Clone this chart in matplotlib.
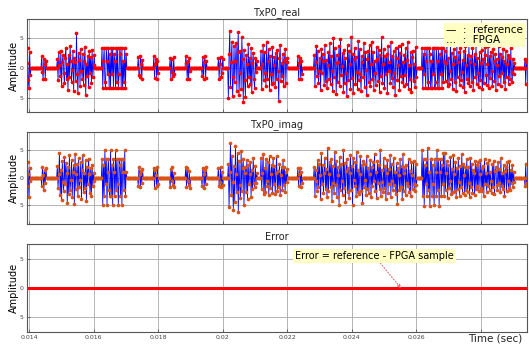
import matplotlib.pyplot as plt
import numpy as np

# sample period and time span of the capture
dt = 2.2e-5
t_first = 0.01390
t_last = 0.02945

# start time of each burst (sec)
burst_t0 = [0.013929, 0.014394, 0.014859, 0.016254, 0.017371, 0.017867, 0.018363,
            0.018859, 0.019355, 0.019851, 0.020161, 0.021185, 0.022332, 0.022828,
            0.026177, 0.029370]

# TxP0 real part, samples of each burst
real_bursts = [
    [0.8, 3.3, -2.1, -3.4, 2.6, -1.2],
    [1.9, -0.7, -1.8, 1.4, 0.6, -1.9, 1.1],
    [1.4, -2.1, 2.6, 0.5, -1.3, 2.9, -3.1, 1.0, 2.2, -0.8, -2.6, 1.7, 3.4, -1.9, 0.6, -3.8,
     2.1, -1.5, 3.7, 1.2, -2.4, -0.4, 2.8, -3.9, 1.6, 0.9, -2.2, 5.8, -1.1, -4.3, 2.5, 1.3,
     -3.0, 3.1, -0.6, -1.8, 2.4, -2.9, 1.1, 3.5, -4.6, 0.7, -1.4, 2.0, -3.2, 2.9, -0.9, 1.8,
     -2.5, 3.0, -1.6, 0.4, 2.2],
    [3.4, -3.4, 1.1, 3.4, -2.3, -3.4, 3.4, 1.1, -1.1, 3.4, -3.4, 2.3, -3.4, 3.4, -1.1, 3.4,
     -3.4, 2.3, 1.1, -3.4, 3.4, -2.3, 3.4, -3.4, -1.1, 3.4, 2.3, -3.4, 3.4, -3.4, 1.1, -2.3,
     3.4, -3.4, 2.3],
    [1.8, -1.2, -1.6, 1.9, 0.7, -1.9, 1.3],
    [1.9, -1.7, 0.6, 1.4, -1.9, 1.1, -0.8],
    [1.6, -1.9, 1.5, -0.7, -1.4, 1.8, -1.1],
    [1.9, 0.8, -1.8, 1.2, -1.9, 1.7, -0.6],
    [-1.3, 1.8, -1.9, 0.9, 1.9, -1.7, 1.2],
    [1.6, -1.9, 0.7, 1.8, -1.5, -0.9, 1.4],
    [-5.0, 2.3, 6.1, -3.3, 0.9, 4.4, -4.8, -1.6, 3.6, -2.4, 1.2, 4.2, -3.9, 2.7, 6.0, -4.5,
     -0.8, 2.8, -3.6, 5.1, 1.4, -5.8, 3.0, -2.1, -4.9, 2.2, 0.6, -3.1, 4.0, -1.5, 1.6, -2.7,
     3.3, -4.1, 0.8, 2.5, -1.9, -3.4, 1.7, -0.7, 1.2],
    [2.9, -3.6, 0.7, 3.8, -2.1, 2.7, -0.9, -3.0, 4.4, -1.8, 1.2, 3.1, -3.8, 2.0, -1.1, -2.7,
     3.5, -2.6, 0.5, 1.8, -3.3, 2.5, -1.9, 3.0, -0.6, -5.5, 1.6, 3.9, -2.2, 0.8, -1.4, 2.4,
     -3.1, 1.3, 3.2, -2.5, 0.9, 1.7],
    [1.9, -1.8, 0.8, 1.7, -1.9, 1.2, -1.0],
    [2.2, -3.1, 0.9, 3.6, -1.4, 2.8, -2.5, -0.6, 1.7, -3.8, 3.1, -0.9, 2.4, 1.1, -2.9, 3.9,
     -2.2, 1.3, -3.4, 0.4, 2.6, -1.8, 4.1, -2.7, 1.9, -0.5, -3.9, 5.0, -1.6, 3.3, 0.8, -4.4,
     2.1, -2.3, 1.0, 3.7, -3.1, 4.8, -1.2, 0.3, 2.5, -4.1, 3.0, -2.6, 1.6, -0.8, -4.7, 3.8,
     -2.0, 2.9, 0.6, -3.5, 5.1, -1.7, 2.3, -4.3, 1.4, 3.4, -2.8, 1.8, -0.7, -3.6, 4.5, -2.1,
     3.2, -1.0, -3.9, 2.0, 0.9, -1.5, 4.2, -3.3, 2.7, -0.4, -4.6, 1.4, 2.9, -2.4, 3.9, -3.0,
     0.7, 4.4, -1.9, 2.6, -3.7, 1.2, -0.9, -2.9, 3.5, 1.5, -2.2, 3.0, -4.0, 2.2, -1.3, 5.1,
     -2.5, 0.6, 3.1, -3.4, 1.9, -1.1, 2.4, -4.2, 3.6, -0.5, 1.0, -2.6, 4.3, -1.7, 2.0, -3.2,
     2.8, -0.8, -4.5, 3.3, 1.6, -2.0, 0.5, 3.7, -3.8, 2.5, -1.4, 4.0, -2.3, 0.9, -3.0, 2.1,
     -1.2, 3.4, -2.7, 1.3, 4.3, -3.5, 0.4, -1.8, 2.6, -4.1, 1.8, 2.9, -2.2, 0.7, -3.3, 3.5,
     -1.6],
    [3.4, -3.4, 2.3, -1.1, 3.4, -3.4, 1.1, 3.4, -2.3, -3.4, 3.4, 2.3, -3.4, 1.1, -3.4, 3.4,
     -1.1, 3.4, -3.4, -2.3, 3.4, 1.1, -3.4, 3.4, -3.4, 2.3, -1.1, 3.4, -3.4, 3.4, -2.3, 1.1,
     2.9, -2.2, 0.8, 3.8, -3.1, 1.6, -2.7, -0.5, 4.0, -1.9, 2.5, -3.5, 0.6, 3.1, -2.4, 1.8,
     -3.9, 4.3, -1.5, 0.9, 2.7, -2.9, 3.4, -2.0, -0.7, 1.3, -3.2, 2.8, -4.0, 3.6, 0.4, -1.8,
     2.2, -2.6, 4.1, -3.0, 1.0, 1.9, -2.3, 3.3, -3.7, 0.6, 2.4, -1.6, 3.9, -2.8, 1.7, -0.9,
     -3.3, 2.6, -2.1, 0.8, 3.0, -3.6, 1.5, -2.5, 2.1, 3.5, -1.2, -2.9, 0.7, 3.7, -3.4, 2.0,
     -1.7, 2.7, -0.6, -3.1, 3.2, 1.1, -2.2, 2.4, -3.8, 1.4, 0.5, -2.7, 3.6, -1.3, 2.3, -3.0,
     1.8, -0.8, 3.1, -2.4, 1.2, -3.5, 2.9, -1.5, 0.6, 2.2, -2.8, 1.6, -1.9, 3.3, -0.7, -2.3,
     1.5, -1.1, 0.8],
    [1.5, -2.8, 0.9],
]

# TxP0 imaginary part, samples of each burst
imag_bursts = [
    [-1.5, 2.9, 0.7, -3.5, 1.8, -0.6],
    [-1.6, 2.0, 0.5, -2.3, 1.4, -0.9, 1.7],
    [2.1, -1.9, 0.6, 4.5, -3.2, 1.4, -4.1, 3.0, -0.8, -2.5, 3.8, -1.2, 2.7, 0.9, -4.7, 1.9,
     -3.0, 4.2, -2.2, -0.5, 3.3, -3.6, 1.1, 2.4, -4.8, 4.4, -2.0, 0.7, 2.5, -3.3, 3.6, -1.7,
     -0.4, 2.8, -3.9, 1.5, 4.1, -2.6, 0.8, -1.9, 3.2, -4.3, 2.0, -1.1, 3.5, 0.6, -2.8, 1.8,
     -3.4, 2.3, -1.5, 0.9, -0.7],
    [3.4, -5.0, 2.3, -3.4, 5.0, -1.1, 3.4, -5.0, 1.1, 3.4, -2.3, -3.4, 5.0, -3.4, 2.3, -5.0,
     3.4, 1.1, -3.4, 5.0, -2.3, 3.4, -1.1, -5.0, 3.4, 2.3, -3.4, 3.4, -5.0, 1.1, 3.4, -2.3,
     5.0, -3.4, 1.1],
    [-1.5, 1.9, 0.6, -1.8, 1.2, -0.9, 1.6],
    [1.7, -1.9, 1.4, 0.5, -1.6, 1.9, -1.2],
    [-1.8, 1.6, -0.7, 1.9, -1.3, 0.8, -1.7],
    [1.9, -1.7, 1.8, -0.6, -1.4, 1.3, -1.9],
    [-1.6, 1.8, 0.7, -1.9, 1.5, -1.1, 1.9],
    [1.8, -1.5, -0.8, 1.9, -1.8, 1.0, -1.3],
    [2.5, -5.4, 1.0, 6.3, -3.2, 3.9, -0.8, -5.9, 2.1, -4.4, 5.8, 0.6, -2.7, 4.6, -6.3, 3.1,
     -1.4, -3.8, 4.9, -2.4, 1.7, 3.5, -5.1, 0.9, 1.9, -2.6, 3.2, -4.0, 2.4, -1.2, 0.7, 2.8,
     -3.5, 1.5, -2.1, 3.7, -0.9, -1.8, 2.2, -1.0, 0.8],
    [3.6, -2.1, 0.8, 4.3, -3.0, 1.8, -2.6, 3.4, -0.7, -1.5, 2.9, -3.2, 4.0, -1.9, 0.6, 2.4,
     -2.8, 3.7, -1.2, 2.2, -3.0, 0.9, 3.9, -2.5, 1.3, -1.7, 2.6, -3.1, 0.5, 1.9, -2.2, 3.3,
     -1.4, 2.0, -2.7, 1.1, -0.8, 1.6],
    [1.8, -1.6, 0.6, 1.7, -1.8, 1.1, -0.9],
    [2.0, -3.3, 1.5, -0.6, -2.4, 3.2, -1.8, 2.6, 0.4, -3.9, 4.5, -1.1, 2.3, -2.9, 0.8, 3.7,
     -2.0, 1.6, -3.6, 5.4, -2.5, 0.7, 2.9, -1.7, 3.5, -4.2, 2.2, -0.9, -2.8, 4.8, -1.4, 3.0,
     -3.5, 1.9, 0.5, -5.0, 3.8, -2.3, 2.5, -0.6, -3.1, 5.1, -1.9, 2.7, -4.4, 1.2, 3.4, -2.6,
     1.8, -3.8, 0.9, 4.2, -2.2, 2.1, -5.1, 3.6, -0.4, -1.6, 2.8, -3.4, 4.7, -2.7, 1.5, -3.0,
     0.7, 3.9, -2.4, 2.4, -4.6, 3.1, -1.8, -0.5, 2.6, -3.2, 4.0, -2.1, 1.7, -2.9, 0.6, 3.3,
     -3.6, 2.0, -1.5, 2.8, -0.7, 4.4, -2.5, 1.1, -3.7, 3.0, -1.0, 2.3, -2.0, 5.0, -3.3, 1.4,
     -0.8, -2.6, 3.6, -1.9, 2.1, -4.0, 0.9, 3.2, -2.8, 1.6, -1.2, 4.1, -3.5, 2.5, -0.6, -2.2,
     3.7, -1.4, 1.0, -3.0, 2.7, -4.8, 1.8, 0.5, -2.3, 3.4, -1.7, 2.2, -3.9, 4.3, -2.4, 0.8,
     1.9, -3.1, 2.4, -0.9, -1.5, 3.5, -2.7, 1.3, -3.4, 2.9, 0.4, -2.0, 3.1, -1.1, -2.5, 2.6,
     -1.3],
    [5.0, -3.4, 3.4, -5.2, 2.3, -1.1, 3.4, -3.4, 5.4, -2.3, 1.1, -5.2, 3.4, 3.4, -3.4, 2.3,
     -1.1, -5.0, 3.4, 1.1, -3.4, 5.0, -2.3, 3.4, -5.2, 1.1, 3.4, -3.4, 2.3, -1.1, 4.6, -3.4,
     4.6, -2.2, 0.9, 3.1, -3.7, 2.4, -1.9, -0.6, 3.8, -3.0, 1.6, -2.6, 4.1, 0.7, -2.4, 2.9,
     -3.5, 1.8, -2.1, 3.6, -0.8, -3.3, 2.2, -1.7, 4.3, -2.8, 2.5, 0.5, -3.1, 1.9, -2.3, 3.4,
     -2.7, 2.0, -0.9, -3.6, 3.7, -1.8, 2.6, -2.9, 1.5, 0.8, -3.2, 3.0, -2.0, 2.3, -1.6, 2.8,
     -2.5, 0.6, 3.2, -1.9, 1.7, -2.4, 2.1, -3.4, 3.5, -1.2, 0.9, -2.6, 2.7, -1.5, 3.3, -2.2,
     1.1, -0.7, -2.9, 2.5, -1.8, 3.1, -3.0, 1.3, 2.0, -1.4, -2.3, 2.9, -0.9, 1.6, -2.7, 3.6,
     -1.6, 0.8, -2.1, 2.4, -3.3, 1.2, 1.9, -2.5, 2.8, -0.6, -1.9, 3.0, -2.2, 1.4, -1.0, 2.3,
     -1.7, 1.0, -0.8],
    [-1.6, 2.5, -0.9],
]

xticks = [0.014, 0.016, 0.018, 0.020, 0.022, 0.024, 0.026, 0.028]
xticklabels = ['0.014', '0.016', '0.018', '0.02', '0.022', '0.024', '0.026', '']
yticks = [-5, 0, 5]
yticklabels = ['5', '0', '5']

t = np.arange(t_first, t_last, dt)


def fill(bursts):
    y = np.zeros(len(t))
    for t0, vals in zip(burst_t0, bursts):
        i0 = int(round((t0 - t_first) / dt))
        y[i0:i0 + len(vals)] = vals[:len(y) - i0]
    return y


ref_real = fill(real_bursts)
ref_imag = fill(imag_bursts)
fpga_real = ref_real.copy()
fpga_imag = ref_imag.copy()
err = ref_real - fpga_real

fig = plt.figure(figsize=(5.29, 3.48), dpi=100)
ax1 = fig.add_axes([0.0505, 0.678, 0.946, 0.267])
ax2 = fig.add_axes([0.0505, 0.355, 0.946, 0.2667])
ax3 = fig.add_axes([0.0505, 0.0451, 0.946, 0.2529])

ax1.plot(t, ref_real, color='#0000ff', lw=0.6)
ax1.plot(t, fpga_real, '.', color='#ff0000', ms=3.3)
ax2.plot(t, ref_imag, color='#0000ff', lw=0.6)
ax2.plot(t, fpga_imag, '.', color='#d95319', ms=3.3)
ax3.plot(t, err, color='#ff0000', lw=2.2)

ax1.set_ylim(-7.43, 8.17)
ax2.set_ylim(-8.6, 8.46)
ax3.set_ylim(-7.59, 7.59)

for ax, title in zip([ax1, ax2, ax3], ['TxP0_real', 'TxP0_imag', 'Error']):
    ax.set_xlim(0.013919, 0.029433)
    ax.set_xticks(xticks)
    ax.set_yticks(yticks)
    ax.set_yticklabels(yticklabels)
    ax.tick_params(labelsize=4.5, length=2, width=0.5, direction='in', pad=2, colors='#444444')
    ax.grid(True, color='#a8a8a8', lw=0.6)
    ax.set_axisbelow(True)
    ax.set_title(title, fontsize=7, pad=3, color='#222222')
    ax.set_ylabel('Amplitude', fontsize=7, labelpad=1)
    for s in ax.spines.values():
        s.set_color('#555555')
        s.set_linewidth(0.8)
    if ax is not ax3:
        ax.set_xticklabels([])
    else:
        ax.set_xticklabels(xticklabels)

ax1.text(0.838, 0.935, '\u2014  :  reference\n...  :  FPGA', transform=ax1.transAxes,
         fontsize=7.5, va='top', ha='left', linespacing=1.0,
         bbox=dict(facecolor='#ffffc4', edgecolor='none', pad=1.5))

ax3.annotate('Error = reference - FPGA sample', xy=(0.025526, 0), xytext=(0.024698, 5.57),
             fontsize=7, ha='center', va='center',
             bbox=dict(facecolor='#ffffc4', edgecolor='none', pad=1.5),
             arrowprops=dict(arrowstyle='-|>', ls=':', color='#e07080', lw=0.8,
                             mutation_scale=5, shrinkA=0, shrinkB=0))

fig.text(0.987, 0.012, 'Time (sec)', fontsize=7.5, ha='right', va='bottom', color='#222222')

fig.savefig('out.png', dpi=100)
